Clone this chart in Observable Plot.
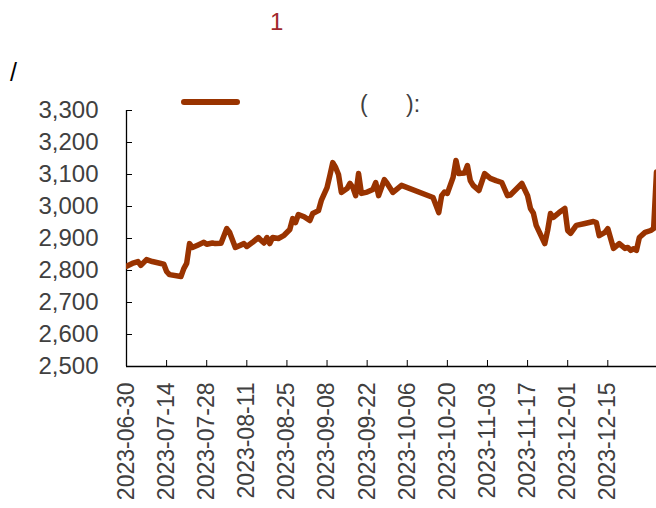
<!DOCTYPE html>
<html>
<head>
<meta charset="utf-8">
<script src="https://cdn.jsdelivr.net/npm/d3@7"></script>
<script src="https://cdn.jsdelivr.net/npm/@observablehq/plot@0.6"></script>
<style>
  html, body { margin: 0; padding: 0; background: #fff; }
  #wrap { position: relative; width: 656px; height: 508px; overflow: hidden; font-family: "Liberation Sans", Arial, sans-serif; }
  .txt { position: absolute; white-space: pre; line-height: 1; }
  svg { display: block; }
</style>
</head>
<body>
<div id="wrap">
  <div class="txt" id="title" style="left:270px; top:10px; font-size:24px; color:#a0282d;">1</div>
  <div class="txt" id="unit" style="left:10px; top:60px; font-size:25px; color:#000;">/</div>
  <div class="txt" id="legtext" style="left:360px; top:93px; font-size:23px; color:#404040;">(      ):</div>
  <div id="chart"></div>
</div>
<script>
const dates = [
  "2023-06-30","2023-07-02","2023-07-04","2023-07-05","2023-07-07","2023-07-09","2023-07-12","2023-07-13",
  "2023-07-14","2023-07-15","2023-07-19","2023-07-20","2023-07-21","2023-07-22","2023-07-23","2023-07-25",
  "2023-07-27","2023-07-28","2023-07-30","2023-07-31","2023-08-02","2023-08-04","2023-08-05","2023-08-07",
  "2023-08-10","2023-08-11","2023-08-13","2023-08-15","2023-08-16","2023-08-17","2023-08-18","2023-08-19",
  "2023-08-20","2023-08-22","2023-08-24","2023-08-26","2023-08-27","2023-08-28","2023-08-29","2023-08-31",
  "2023-09-02","2023-09-03","2023-09-05","2023-09-06","2023-09-08","2023-09-09","2023-09-10","2023-09-11",
  "2023-09-12","2023-09-13","2023-09-15","2023-09-16","2023-09-17","2023-09-18","2023-09-19","2023-09-20",
  "2023-09-22","2023-09-24","2023-09-25","2023-09-26","2023-09-28","2023-09-29","2023-10-01","2023-10-04",
  "2023-10-15","2023-10-17","2023-10-18","2023-10-19","2023-10-20","2023-10-22","2023-10-23","2023-10-24",
  "2023-10-26","2023-10-27","2023-10-28","2023-10-29","2023-10-31","2023-11-02","2023-11-04","2023-11-06",
  "2023-11-08","2023-11-10","2023-11-11","2023-11-15","2023-11-17","2023-11-18","2023-11-19","2023-11-20",
  "2023-11-23","2023-11-24","2023-11-25","2023-11-26","2023-11-28","2023-11-30","2023-12-01","2023-12-02",
  "2023-12-04","2023-12-07","2023-12-10","2023-12-11","2023-12-12","2023-12-14","2023-12-15","2023-12-17",
  "2023-12-19","2023-12-21","2023-12-22","2023-12-23","2023-12-24","2023-12-25","2023-12-26","2023-12-28",
  "2023-12-30","2023-12-31","2024-01-01"
];
const values = [
  2813,2822,2828,2816,2834,2828,2822,2820,
  2797,2787,2781,2806,2822,2884,2872,2880,
  2888,2882,2886,2884,2885,2931,2919,2872,
  2884,2875,2888,2903,2894,2886,2903,2884,
  2903,2900,2910,2928,2962,2950,2975,2968,
  2956,2978,2987,3019,3059,3097,3137,3122,
  3100,3044,3056,3072,3060,3034,3103,3041,
  3045,3053,3075,3034,3084,3072,3044,3066,
  3028,2981,3034,3045,3041,3091,3144,3103,
  3105,3128,3081,3066,3050,3103,3088,3081,
  3075,3034,3036,3072,3034,2994,2980,2941,
  2884,2925,2978,2966,2981,2994,2925,2916,
  2941,2947,2953,2950,2909,2919,2931,2869,
  2884,2869,2872,2863,2868,2863,2903,2919,
  2925,2931,3108
];
const yTicks = [2500,2600,2700,2800,2900,3000,3100,3200,3300];
const xTickLabels = ["2023-06-30","2023-07-14","2023-07-28","2023-08-11","2023-08-25","2023-09-08",
  "2023-09-22","2023-10-06","2023-10-20","2023-11-03","2023-11-17","2023-12-01","2023-12-15"];
const xDomain = ["2023-06-30","2024-01-01"];
const yDomain = [2500, 3300];

const parse = d3.utcParse("%Y-%m-%d");
const data = dates.map((d, i) => ({date: parse(d), value: values[i]}));
const xTicks = xTickLabels.map(parse);

const fmt = d3.format(",");
const chart = Plot.plot({
  width: 656,
  height: 508,
  marginLeft: 126,
  marginRight: 0,
  marginTop: 110,
  marginBottom: 142,
  style: {fontFamily: "'Liberation Sans', Arial, sans-serif", fontSize: "23px", background: "transparent", overflow: "hidden"},
  x: {type: "utc", domain: xDomain.map(parse)},
  y: {domain: yDomain},
  marks: [
    Plot.axisY({ticks: yTicks, tickFormat: fmt, tickSize: -6, tickPadding: 34, label: null, fill: "#404040", stroke: "#000", fontSize: 24}),
    Plot.axisX({ticks: xTicks, tickFormat: d3.utcFormat("%Y-%m-%d"), tickRotate: -90, tickSize: -6, tickPadding: 22, label: null, fill: "#404040", stroke: "#000", fontSize: 23}),
    Plot.ruleX([parse(xDomain[0])], {stroke: "#000", strokeWidth: 1.3}),
    Plot.ruleY([yDomain[0]], {stroke: "#000", strokeWidth: 1.3}),
    Plot.line(data, {x: "date", y: "value", stroke: "#993300", strokeWidth: 5.5, strokeLinejoin: "round", strokeLinecap: "round", clip: true})
  ]
});
document.getElementById("chart").appendChild(chart);

// legend swatch
const sw = d3.select("#wrap").append("svg")
  .attr("width", 70).attr("height", 20)
  .style("position", "absolute").style("left", "176px").style("top", "92px");
sw.append("line").attr("x1", 8).attr("x2", 61).attr("y1", 10).attr("y2", 10)
  .attr("stroke", "#993300").attr("stroke-width", 6).attr("stroke-linecap", "round");
</script>
</body>
</html>
